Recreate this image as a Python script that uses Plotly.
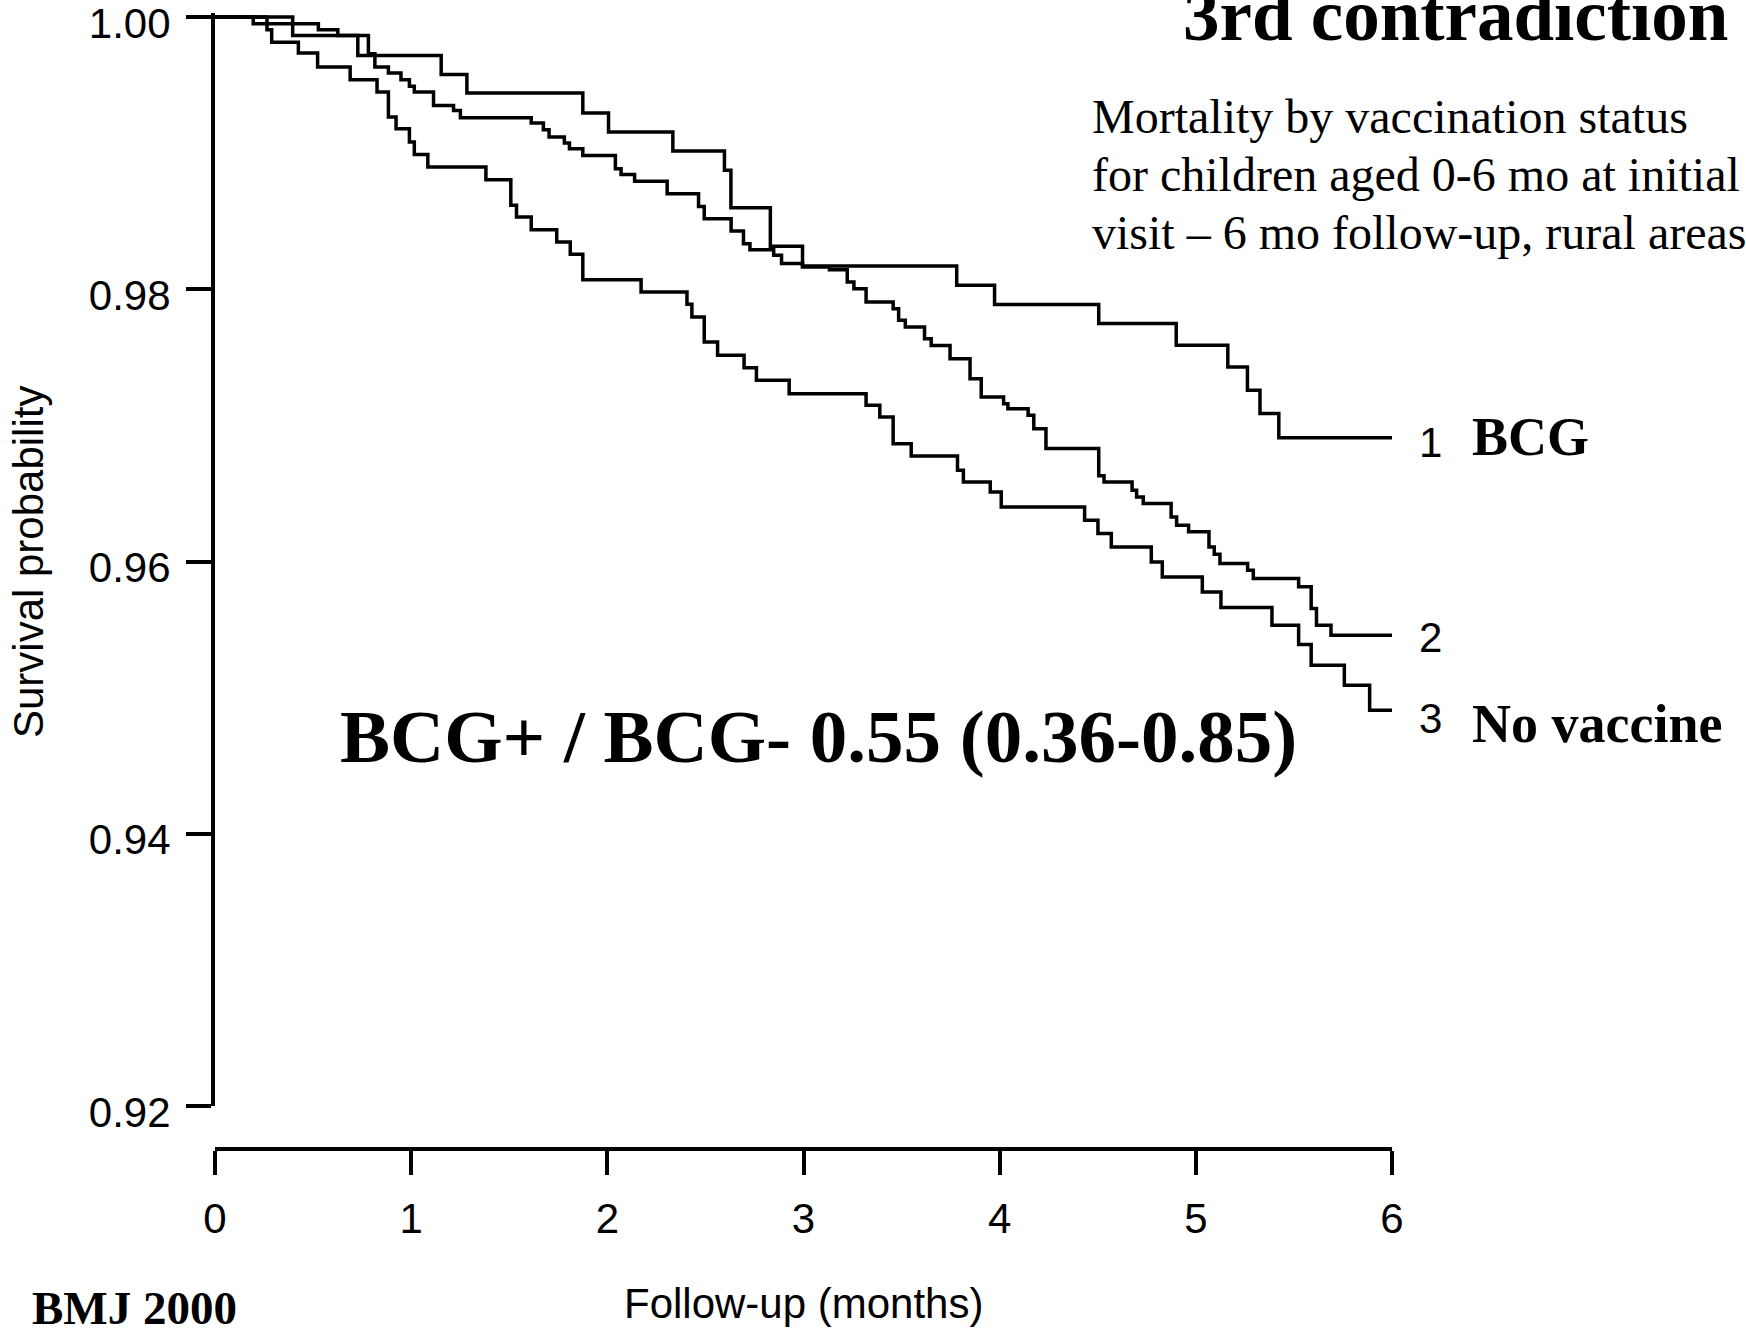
import plotly.graph_objects as go

# ---------------- data ----------------
months_bcg = [0, 0.396, 0.728, 1.153, 1.284, 1.875, 2.006, 2.334, 2.597, 2.630,
              2.831, 2.995, 3.781, 3.974, 4.505, 4.900, 5.163, 5.263, 5.327, 5.423, 6]
surv_bcg = [1.0, 0.99865, 0.99718, 0.99579, 0.99442, 0.99295, 0.99155, 0.99016, 0.98874, 0.98600,
            0.98316, 0.98171, 0.98029, 0.97889, 0.97748, 0.97589, 0.97429, 0.97258, 0.97087, 0.96910,
            0.96910]

months_2 = [0, 0.265, 0.527, 0.626, 0.782, 0.815, 0.884, 0.948, 0.991, 1.016,
            1.114, 1.216, 1.251, 1.612, 1.674, 1.703, 1.781, 1.807, 1.875, 2.041,
            2.070, 2.139, 2.305, 2.465, 2.494, 2.631, 2.694, 2.727, 2.848, 2.888,
            2.995, 3.132, 3.223, 3.257, 3.319, 3.457, 3.485, 3.519, 3.617, 3.651,
            3.747, 3.849, 3.906, 4.020, 4.042, 4.145, 4.174, 4.236, 4.505, 4.532,
            4.675, 4.698, 4.732, 4.874, 4.902, 4.963, 5.067, 5.094, 5.123, 5.264,
            5.293, 5.524, 5.588, 5.615, 5.689, 6]
surv_2 = [1.0, 0.99951, 0.99907, 0.99865, 0.99731, 0.99633, 0.99589, 0.99540, 0.99491, 0.99449,
          0.99351, 0.99314, 0.99261, 0.99221, 0.99172, 0.99119, 0.99075, 0.99033, 0.98984, 0.98886,
          0.98844, 0.98793, 0.98702, 0.98609, 0.98519, 0.98428, 0.98335, 0.98291, 0.98250, 0.98189,
          0.98164, 0.98144, 0.98053, 0.98004, 0.97906, 0.97857, 0.97772, 0.97723, 0.97637, 0.97588,
          0.97490, 0.97343, 0.97209, 0.97160, 0.97123, 0.97074, 0.96976, 0.96830, 0.96630, 0.96585,
          0.96524, 0.96474, 0.96426, 0.96328, 0.96267, 0.96218, 0.96107, 0.96054, 0.95985, 0.95936,
          0.95875, 0.95814, 0.95655, 0.95532, 0.95459, 0.95459]

months_novac = [0, 0.195, 0.265, 0.289, 0.425, 0.523, 0.689, 0.826, 0.884, 0.923,
                0.991, 1.016, 1.085, 1.381, 1.508, 1.537, 1.612, 1.742, 1.811, 1.875,
                2.172, 2.406, 2.431, 2.494, 2.562, 2.697, 2.760, 2.927, 3.319, 3.389,
                3.457, 3.549, 3.785, 3.815, 3.952, 4.008, 4.433, 4.501, 4.569, 4.773,
                4.829, 5.033, 5.128, 5.388, 5.524, 5.588, 5.757, 5.886, 6]
surv_novac = [1.0, 0.99951, 0.99907, 0.99816, 0.99736, 0.99633, 0.99540, 0.99449, 0.99266, 0.99180,
              0.99082, 0.98991, 0.98898, 0.98805, 0.98617, 0.98531, 0.98438, 0.98347, 0.98257, 0.98071,
              0.97980, 0.97890, 0.97797, 0.97613, 0.97515, 0.97423, 0.97331, 0.97233, 0.97148, 0.97062,
              0.96866, 0.96775, 0.96670, 0.96584, 0.96511, 0.96401, 0.96303, 0.96206, 0.96107, 0.95997,
              0.95887, 0.95777, 0.95662, 0.95532, 0.95390, 0.95238, 0.95092, 0.94908, 0.94908]

curve_numbers = ["1", "2", "3"]
group_names = ["BCG", "", "No vaccine"]

x_ticks = [0, 1, 2, 3, 4, 5, 6]
y_ticks = [0.92, 0.94, 0.96, 0.98, 1.00]

title_text = "3rd contradiction"
subtitle_lines = ["Mortality by vaccination status",
                  "for children aged 0-6 mo at initial",
                  "visit \u2013 6 mo follow-up, rural areas"]
ratio_text = "BCG+ / BCG- 0.55 (0.36-0.85)"
source_text = "BMJ 2000"
x_title = "Follow-up (months)"
y_title = "Survival probability"

# ---------------- layout geometry ----------------
W, H = 1746, 1330
L, R, T, B = 215, 354, 13, 181
PW = W - L - R
PH = H - T - B
PAPER_BOTTOM_Y = H - B


def px(X):
    return (X - L) / PW


def py(Y):
    return (PAPER_BOTTOM_Y - Y) / PH


SANS = "Liberation Sans, Arial, Helvetica, sans-serif"
SERIF = "Liberation Serif, Times New Roman, Times, serif"

fig = go.Figure()

series = [(months_bcg, surv_bcg), (months_2, surv_2), (months_novac, surv_novac)]
for t, s in series:
    fig.add_trace(go.Scatter(
        x=t, y=s, mode="lines",
        line=dict(color="black", width=3.5, shape="hv"),
        showlegend=False, hoverinfo="skip",
    ))

annotations = []

# curve numbers and group names at curve ends
num_yshift = [-5, -2, -8]
name_yshift = [1, 0, -14]
for (t, s), num, name, dy1, dy2 in zip(series, curve_numbers, group_names, num_yshift, name_yshift):
    annotations.append(dict(x=t[-1], y=s[-1], xref="x", yref="y", text=num,
                            showarrow=False, xanchor="left", yanchor="middle",
                            xshift=25, yshift=dy1,
                            font=dict(family=SANS, size=42, color="black")))
    if name:
        annotations.append(dict(x=t[-1], y=s[-1], xref="x", yref="y", text="<b>%s</b>" % name,
                                showarrow=False, xanchor="left", yanchor="middle",
                                xshift=78, yshift=dy2,
                                font=dict(family=SERIF, size=54, color="black")))

# title (partly cut off at the top of the page, as in the original)
annotations.append(dict(x=px(1181), y=py(40 - 0.3375 * 73), xref="paper", yref="paper",
                        text="<b>%s</b>" % title_text, showarrow=False,
                        xanchor="left", yanchor="middle",
                        font=dict(family=SERIF, size=73, color="black")))

# subtitle lines
for line, base in zip(subtitle_lines, [133, 191, 249]):
    annotations.append(dict(x=px(1090), y=py(base - 0.3375 * 48), xref="paper", yref="paper",
                            text=line, showarrow=False, xanchor="left", yanchor="middle",
                            font=dict(family=SERIF, size=48, color="black")))

# hazard ratio text
annotations.append(dict(x=px(338), y=py(762 - 0.3375 * 75), xref="paper", yref="paper",
                        text="<b>%s</b>" % ratio_text, showarrow=False,
                        xanchor="left", yanchor="middle",
                        font=dict(family=SERIF, size=75, color="black")))

# source
annotations.append(dict(x=px(30), y=py(1324 - 0.3375 * 47), xref="paper", yref="paper",
                        text="<b>%s</b>" % source_text, showarrow=False,
                        xanchor="left", yanchor="middle",
                        font=dict(family=SERIF, size=47, color="black")))

# axis titles
annotations.append(dict(x=3, y=py(1318 - 0.3465 * 42), xref="x", yref="paper",
                        text=x_title, showarrow=False, xanchor="center", yanchor="middle",
                        font=dict(family=SANS, size=42, color="black")))
annotations.append(dict(x=px(28.5), y=0.96, xref="paper", yref="y",
                        text=y_title, showarrow=False, textangle=-90,
                        xanchor="center", yanchor="middle",
                        font=dict(family=SANS, size=42, color="black")))

y_lo, y_hi = 0.92, 1.0003
y_domain_bottom = (PAPER_BOTTOM_Y - 1106) / PH

fig.update_layout(
    width=W, height=H,
    margin=dict(l=L, r=R, t=T, b=B, pad=0, autoexpand=False),
    paper_bgcolor="white", plot_bgcolor="white",
    showlegend=False,
    annotations=annotations,
    xaxis=dict(
        range=[0, 6], domain=[0, 1], anchor="free", position=0, automargin=False,
        showline=True, linecolor="black", linewidth=4,
        ticks="outside", ticklen=24, tickwidth=3.5, tickcolor="black",
        tickvals=x_ticks, ticktext=[str(v) for v in x_ticks],
        tickfont=dict(family=SANS, size=42, color="black"),
        ticklabelstandoff=8,
        showgrid=False, zeroline=False,
    ),
    yaxis=dict(
        range=[y_lo, y_hi], domain=[y_domain_bottom, 1], anchor="x", automargin=False,
        showline=True, linecolor="black", linewidth=4,
        ticks="outside", ticklen=25, tickwidth=4, tickcolor="black",
        tickvals=y_ticks, ticktext=["%.2f" % v for v in y_ticks],
        tickfont=dict(family=SANS, size=42, color="black"),
        ticklabelstandoff=7, ticklabelshift=6, ticklabeloverflow="allow",
        showgrid=False, zeroline=False,
    ),
)

fig.write_html("out.html")
